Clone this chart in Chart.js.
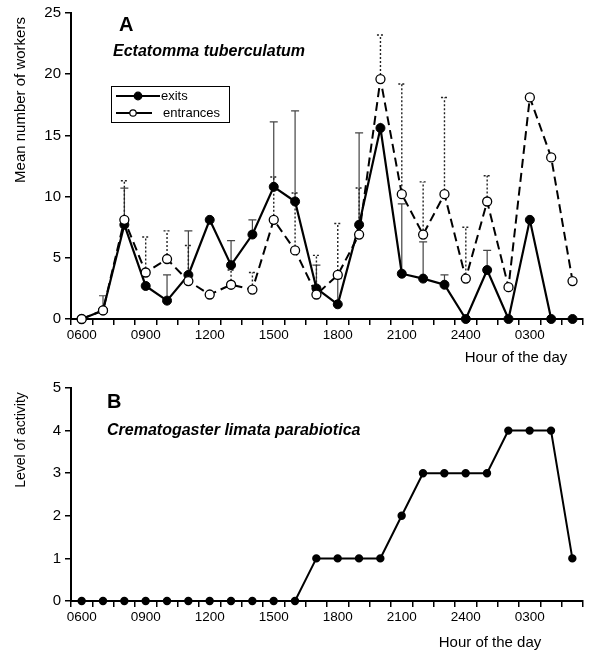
<!DOCTYPE html>
<html>
<head>
<meta charset="utf-8">
<script src="https://cdn.jsdelivr.net/npm/chart.js@4.4.1/dist/chart.umd.min.js"></script>
<style>
  html, body { margin: 0; padding: 0; background: #fff; }
  #wrap { position: relative; width: 589px; height: 651px; overflow: hidden; }
  #boxA { position: absolute; left: 0; top: 0; width: 589px; height: 372px; }
  #boxB { position: absolute; left: 0; top: 372px; width: 589px; height: 279px; }
</style>
</head>
<body>
<div id="wrap">
  <div id="boxA"><canvas id="chartA"></canvas></div>
  <div id="boxB"><canvas id="chartB"></canvas></div>
</div>
<script>
// hours of observation, one category each
const hours = ['0600', '0700', '0800', '0900', '1000', '1100', '1200', '1300', '1400', '1500', '1600', '1700',
               '1800', '1900', '2000', '2100', '2200', '2300', '2400', '0100', '0200', '0300', '0400', '0500'];
const shownHours = ['0600', '0900', '1200', '1500', '1800', '2100', '2400', '0300'];

// Panel A - Ectatomma tuberculatum
const exits = [0, 0.7, 7.7, 2.7, 1.5, 3.6, 8.1, 4.4, 6.9, 10.8, 9.6, 2.5, 1.2, 7.7, 15.6, 3.7, 3.3, 2.8, 0, 4.0, 0, 8.1, 0, 0];
const exitsUpper = [null, 1.9, 10.7, null, 3.6, 7.2, null, 6.4, 8.1, 16.1, 17.0, 4.4, 3.3, 15.2, null, 9.4, 6.3, 3.6, null, 5.6, null, null, null, null];
const entrances = [0, 0.7, 8.1, 3.8, 4.9, 3.1, 2.0, 2.8, 2.4, 8.1, 5.6, 2.0, 3.6, 6.9, 19.6, 10.2, 6.9, 10.2, 3.3, 9.6, 2.6, 18.1, 13.2, 3.1];
const entrancesUpper = [null, null, 11.3, 6.7, 7.2, 6.0, null, 4.0, 3.8, 11.6, 10.3, 5.2, 7.8, 10.7, 23.2, 19.2, 11.2, 18.1, 7.5, 11.7, null, null, null, null];

// Panel B - Crematogaster limata parabiotica
const activity = [0, 0, 0, 0, 0, 0, 0, 0, 0, 0, 0, 1, 1, 1, 1, 2, 3, 3, 3, 3, 4, 4, 4, 1];

const FONT = '"Liberation Sans", Arial, Helvetica, sans-serif';
Chart.defaults.font.family = FONT;
Chart.defaults.color = '#000';

function hourTick(v, i) {
    return shownHours.includes(hours[i]) ? hours[i] : '';
}

function xAxis(height) {
    return {
        type: 'category',
        offset: true,
        grid: { offset: true, drawOnChartArea: false, drawTicks: true, tickLength: 6, color: '#000', lineWidth: 1.5 },
        border: { color: '#000', width: 2 },
        ticks: { autoSkip: false, maxRotation: 0, padding: 2, color: '#000', font: { size: 13.5 }, callback: hourTick },
        afterFit(s) { s.height = height; },
    };
}

function yAxis(max, step) {
    return {
        min: 0,
        max: max,
        grid: { drawOnChartArea: false, tickLength: 6, color: '#000', lineWidth: 1.5 },
        border: { color: '#000', width: 2 },
        ticks: { stepSize: step, padding: 4, color: '#000', font: { size: 15 } },
        afterFit(s) { s.width = 71; },
    };
}

// error bars (upper half only), drawn through the chart's own scales
const errorBars = {
    id: 'errorBars',
    beforeDatasetsDraw(chart) {
        const { ctx, scales: { x, y } } = chart;
        const sets = [
            { mean: exits, upper: exitsUpper, color: '#444', width: 1.2, dash: [], cap: 4 },
            { mean: entrances, upper: entrancesUpper, color: '#222', width: 1.4, dash: [2, 2], cap: 3.5 },
        ];
        sets.forEach(set => {
            ctx.save();
            ctx.strokeStyle = set.color;
            ctx.lineWidth = set.width;
            ctx.setLineDash(set.dash);
            set.upper.forEach((u, i) => {
                if (u == null) return;
                const px = x.getPixelForValue(i);
                const y0 = y.getPixelForValue(set.mean[i]);
                const y1 = y.getPixelForValue(u);
                ctx.beginPath();
                ctx.moveTo(px, y0);
                ctx.lineTo(px, y1);
                ctx.moveTo(px - set.cap, y1);
                ctx.lineTo(px + set.cap, y1);
                ctx.stroke();
            });
            ctx.restore();
        });
    },
};

function textPlugin(items, legend) {
    return {
        id: 'panelText',
        afterDraw(chart) {
            const ctx = chart.ctx;
            ctx.save();
            ctx.fillStyle = '#000';
            items.forEach(t => {
                ctx.save();
                ctx.font = t.font;
                ctx.textAlign = t.align || 'left';
                ctx.textBaseline = t.baseline || 'middle';
                ctx.translate(t.x, t.y);
                if (t.rotate) ctx.rotate(t.rotate);
                ctx.fillText(t.text, 0, 0);
                ctx.restore();
            });
            if (legend) {
                const ds = chart.data.datasets;
                ctx.strokeStyle = '#000';
                ctx.lineWidth = 1;
                ctx.strokeRect(111.5, 86.5, 118, 36);
                ctx.font = '13px ' + FONT;
                ctx.textBaseline = 'middle';
                ctx.textAlign = 'left';
                const rows = [
                    { d: ds[0], y: 96, x0: 116, x1: 160, cx: 138, tx: 161, r: 3.8 },
                    { d: ds[1], y: 113, x0: 116, x1: 152, cx: 133, tx: 163, r: 3.2 },
                ];
                rows.forEach(r => {
                    ctx.lineWidth = 2;
                    ctx.beginPath();
                    ctx.moveTo(r.x0, r.y);
                    ctx.lineTo(r.x1, r.y);
                    ctx.stroke();
                    ctx.beginPath();
                    ctx.arc(r.cx, r.y, r.r, 0, Math.PI * 2);
                    ctx.fillStyle = r.d.pointBackgroundColor;
                    ctx.fill();
                    ctx.lineWidth = 1.2;
                    ctx.stroke();
                    ctx.fillStyle = '#000';
                    ctx.fillText(r.d.label, r.tx, r.y);
                });
            }
            ctx.restore();
        },
    };
}

new Chart(document.getElementById('chartA').getContext('2d'), {
    type: 'line',
    data: {
        labels: hours,
        datasets: [
            {
                label: 'exits',
                data: exits,
                borderColor: '#000',
                borderWidth: 2.2,
                pointRadius: 4.5,
                pointBackgroundColor: '#000',
                pointBorderColor: '#000',
                pointBorderWidth: 1,
                tension: 0,
                clip: false,
                order: 2,
            },
            {
                label: 'entrances',
                data: entrances,
                borderColor: '#000',
                borderWidth: 2,
                borderDash: [9, 5],
                pointRadius: 4.5,
                pointBackgroundColor: '#fff',
                pointBorderColor: '#000',
                pointBorderWidth: 1.3,
                tension: 0,
                clip: false,
                order: 1,
            },
        ],
    },
    options: {
        responsive: true,
        maintainAspectRatio: false,
        animation: false,
        layout: { padding: { top: 12, right: 2, left: 0, bottom: 0 } },
        plugins: { legend: { display: false }, tooltip: { enabled: false } },
        scales: { x: xAxis(53), y: yAxis(25, 5) },
    },
    plugins: [errorBars, textPlugin([
        { text: 'A', x: 119, y: 25, font: 'bold 20px ' + FONT },
        { text: 'Ectatomma tuberculatum', x: 113, y: 52, font: 'italic bold 16px ' + FONT },
        { text: 'Mean number of workers', x: 25, y: 100, font: '15px ' + FONT, align: 'center', baseline: 'alphabetic', rotate: -Math.PI / 2 },
        { text: 'Hour of the day', x: 516, y: 358, font: '15px ' + FONT, align: 'center' },
    ], true)],
});

new Chart(document.getElementById('chartB').getContext('2d'), {
    type: 'line',
    data: {
        labels: hours,
        datasets: [
            {
                label: 'activity',
                data: activity,
                borderColor: '#000',
                borderWidth: 2,
                pointRadius: 3.2,
                pointBackgroundColor: '#000',
                pointBorderColor: '#000',
                tension: 0,
                clip: false,
            },
        ],
    },
    options: {
        responsive: true,
        maintainAspectRatio: false,
        animation: false,
        layout: { padding: { top: 16, right: 2, left: 0, bottom: 0 } },
        plugins: { legend: { display: false }, tooltip: { enabled: false } },
        scales: { x: xAxis(50), y: yAxis(5, 1) },
    },
    plugins: [textPlugin([
        { text: 'B', x: 107, y: 30, font: 'bold 20px ' + FONT },
        { text: 'Crematogaster limata parabiotica', x: 107, y: 59, font: 'italic bold 16px ' + FONT },
        { text: 'Level of activity', x: 25, y: 68, font: '14px ' + FONT, align: 'center', baseline: 'alphabetic', rotate: -Math.PI / 2 },
        { text: 'Hour of the day', x: 490, y: 271, font: '15px ' + FONT, align: 'center' },
    ], false)],
});
</script>
</body>
</html>
